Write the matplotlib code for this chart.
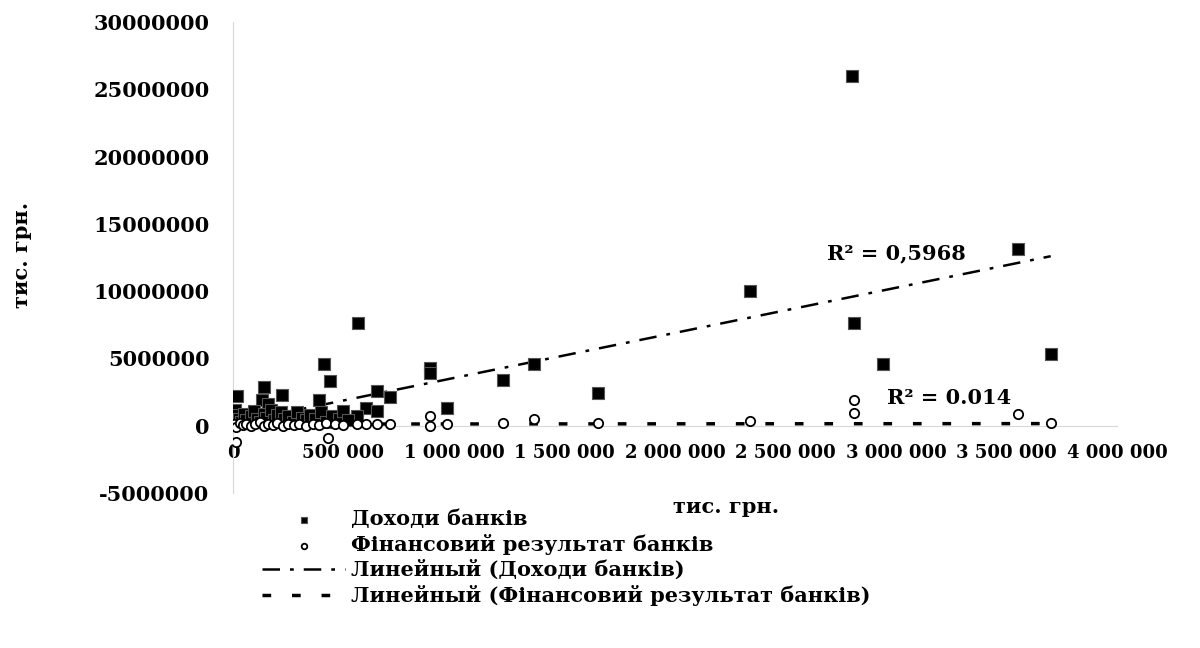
import numpy as np
import matplotlib
matplotlib.use("Agg")
import matplotlib.pyplot as plt
from matplotlib.ticker import FuncFormatter, MultipleLocator

plt.rcParams["font.family"] = ["DejaVu Serif"]
plt.rcParams["font.weight"] = "bold"

# Доходи банків (x, y), тис. грн.
inc_x = [2800000, 3550000, 2340000, 2810000, 2940000, 3700000, 1650000, 1360000,
         566000, 890000, 890000, 1220000, 650000, 710000, 970000, 600000, 650000,
         560000, 410000, 440000, 390000, 20000, 140000, 220000, 130000, 160000,
         10000, 15000, 25000, 35000, 50000, 60000, 80000, 95000, 110000, 120000,
         140000, 150000, 170000, 185000, 200000, 215000, 230000, 250000, 270000,
         290000, 310000, 330000, 350000, 370000, 400000, 420000, 450000, 480000,
         500000, 520000]
inc_y = [26000000, 13100000, 10000000, 7600000, 4600000, 5350000, 2450000, 4600000,
         7600000, 4300000, 3900000, 3400000, 2600000, 2100000, 1300000, 1350000, 1100000,
         740000, 4600000, 3300000, 1900000, 2200000, 2900000, 2300000, 1900000, 1600000,
         1200000, 800000, 500000, 300000, 900000, 400000, 700000, 1100000, 500000, 300000,
         900000, 600000, 1200000, 400000, 800000, 1000000, 500000, 700000, 300000,
         1000000, 600000, 400000, 800000, 500000, 1000000, 300000, 700000, 500000,
         1100000, 400000]

# Фінансовий результат банків (x, y), тис. грн.
fin_x = [2810000, 2810000, 2340000, 3550000, 3700000, 1360000, 1650000, 1220000,
         890000, 890000, 970000, 710000, 650000, 600000, 560000, 430000, 15000,
         5000, 15000, 30000, 45000, 60000, 80000, 100000, 120000, 140000, 160000,
         180000, 200000, 225000, 250000, 275000, 300000, 330000, 360000, 390000,
         420000, 460000, 500000]
fin_y = [1900000, 950000, 350000, 900000, 200000, 500000, 200000, 200000,
         740000, 0, 150000, 150000, 150000, 150000, 150000, -900000, -1200000,
         100000, -100000, 200000, 50000, 150000, -50000, 100000, 250000, 0, 150000,
         50000, 200000, -50000, 100000, 50000, 150000, 0, 100000, 50000,
         200000, 100000, 50000]

# linear trendlines as shown in the picture (slope, intercept)
inc_trend = (3.35, 200000)
fin_trend = (0.01, 120000)
r2_inc = "R² = 0,5968"
r2_fin = "R² = 0.014"

fig = plt.figure(figsize=(12, 6.48), dpi=100)
ax = fig.add_axes([233 / 1200, 1 - 493 / 648, (1117 - 233) / 1200, (493 - 22) / 648])

ax.scatter(inc_x, inc_y, marker="s", s=70, color="black", edgecolors="#555555",
           linewidths=0.8, zorder=3, label="Доходи банків")
ax.scatter(fin_x, fin_y, marker="o", s=45, facecolors="white", edgecolors="black",
           linewidths=1.3, zorder=4, label="Фінансовий результат банків")

xs = np.array([min(inc_x), max(inc_x)])
ax.plot(xs, inc_trend[0] * xs + inc_trend[1], color="black", lw=1.8,
        dashes=(7, 4, 1.5, 4), zorder=2, label="Линейный (Доходи банків)")
xs2 = np.array([min(fin_x), max(fin_x)])
ax.plot(xs2, fin_trend[0] * xs2 + fin_trend[1], color="black", lw=2.5,
        dashes=(2.5, 6), zorder=2, label="Линейный (Фінансовий результат банків)")

ax.text(3000000, 12800000, r2_inc, fontsize=15, fontweight="bold", ha="center", va="center")
ax.text(3240000, 2080000, r2_fin, fontsize=15, fontweight="bold", ha="center", va="center")

ax.set_xlim(0, 4000000)
ax.set_ylim(-5000000, 30000000)
ax.xaxis.set_major_locator(MultipleLocator(500000))
ax.yaxis.set_major_locator(MultipleLocator(5000000))
ax.xaxis.set_major_formatter(FuncFormatter(lambda v, p: f"{int(v):,}".replace(",", " ")))
ax.yaxis.set_major_formatter(FuncFormatter(lambda v, p: f"{int(v)}"))

for s in ["top", "right"]:
    ax.spines[s].set_visible(False)
ax.spines["left"].set_color("#d9d9d9")
ax.spines["bottom"].set_color("#d9d9d9")
ax.spines["bottom"].set_position(("data", 0))
ax.tick_params(axis="both", length=0)
ax.tick_params(axis="y", pad=17, labelsize=15)
ax.tick_params(axis="x", pad=13, labelsize=13)
for t in ax.get_xticklabels() + ax.get_yticklabels():
    t.set_fontweight("bold")

fig.text(726 / 1200, 1 - 507 / 648, "тис. грн.", fontsize=15, fontweight="bold",
         ha="center", va="center")
fig.text(22 / 1200, 1 - 255 / 648, "тис. грн.", fontsize=15, fontweight="bold",
         ha="center", va="center", rotation=90)

leg = fig.legend(loc="upper left", bbox_to_anchor=(262 / 1200, 1 - 509 / 648),
                 frameon=False, fontsize=15, handlelength=4.0, handletextpad=0.25,
                 labelspacing=0.24, borderpad=0, borderaxespad=0, markerscale=0.6)
for t in leg.get_texts():
    t.set_fontweight("bold")

fig.savefig("out.png", dpi=100)
